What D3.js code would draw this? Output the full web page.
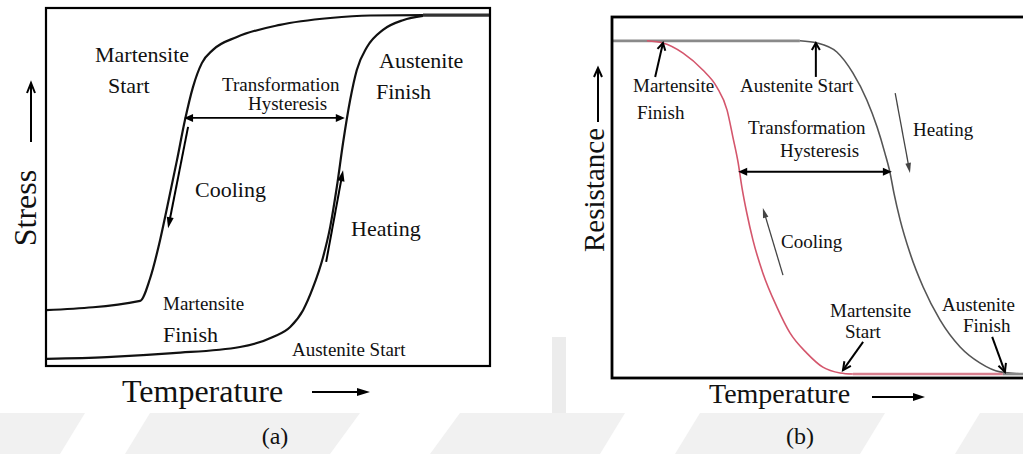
<!DOCTYPE html>
<html><head><meta charset="utf-8">
<script src="https://cdn.jsdelivr.net/npm/d3@7"></script>
</head><body style="margin:0">
<svg id="c" width="1023" height="454" font-family="Liberation Serif" style="font-family:'Liberation Serif'"></svg>
<script>
// ---- Data (normalised units: temperature 0-100, stress/resistance 0-100) ----
// Panel (a): stress vs temperature
const stressCooling = [[0,15.6],[21.2,18.2],[23.4,24.3],[25.7,35.2],[27.3,44.4],[29.5,57.5],[31.3,68.7],[33.1,77.9],[35.1,84.6],[37.6,88.3],[43.0,91.9],[52.7,95.3],[64.0,97.2],[73.0,97.9],[84.9,98.0]];
const stressHeating = [[0.2,2.0],[13.7,2.5],[28.6,3.6],[43.7,5.3],[51.1,8.1],[55.0,10.9],[57.9,15.6],[60.1,21.8],[62.4,30.4],[64.0,38.8],[65.5,50.0],[66.9,62.3],[68.5,74.3],[70.0,82.7],[72.3,89.1],[75.9,93.9],[80.4,96.6],[84.9,97.8]];
const stressPlateau = [[84.9,98.0],[100,98.0]];
// Panel (b): resistance vs temperature
const resPlateau = [[0,93.4],[45.7,93.4]];
const resCooling = [[8.5,93.4],[12.4,92.8],[17.3,90.0],[22.1,85.3],[25.5,80.6],[28.0,74.2],[29.4,66.8],[30.7,59.6],[31.6,52.9],[32.8,45.7],[34.3,38.2],[36.7,29.1],[40.1,19.7],[43.3,12.5],[47.4,6.9],[51.3,3.0],[55.5,1.4],[58.6,1.1]];
const resBottomRed = [[58.6,1.1],[95.1,1.1]];
const resBottomGray = [[95.1,1.1],[100,1.1]];
const resHeating = [[45.7,93.4],[49.9,92.8],[54.7,90.3],[58.6,84.5],[62.0,77.0],[64.5,69.5],[66.4,62.3],[67.6,57.1],[68.6,51.2],[70.1,43.8],[72.5,34.6],[75.7,25.2],[79.8,16.1],[84.7,8.6],[89.5,4.2],[94.4,1.7],[100,1.1]];
// hysteresis widths  [tempLeft, tempRight, level]
const hysteresisA = [31.1, 67.3, 69.3];
const hysteresisB = [30.7, 68.1, 57.1];
const labelsA = ["Martensite","Start","Transformation","Hysteresis","Austenite","Finish","Cooling","Heating","Martensite","Finish","Austenite Start"];
const labelsB = ["Martensite","Finish","Austenite Start","Transformation","Hysteresis","Heating","Cooling","Martensite","Start","Austenite","Finish"];
const axisTitlesA = ["Temperature","Stress","(a)"];
const axisTitlesB = ["Temperature","Resistance","(b)"];

// ---- Scales ----
const xA = d3.scaleLinear().domain([0,100]).range([46,490]);
const yA = d3.scaleLinear().domain([0,100]).range([366,8]);
const xB = d3.scaleLinear().domain([0,100]).range([612,1023]);
const yB = d3.scaleLinear().domain([0,100]).range([378,17]);

const svg = d3.select("#c");

// faint watermark background
const wm = svg.append("g");
wm.append("rect").attr("x",0).attr("y",413).attr("width",1023).attr("height",41).attr("fill","#f1f1f1");
[[60,454,85,413,150,413,125,454],[330,454,360,413,460,413,430,454],[600,454,625,413,700,413,675,454],[860,454,885,413,980,413,955,454]].forEach(p=>{
  wm.append("polygon").attr("points",[[p[0],p[1]],[p[2],p[3]],[p[4],p[5]],[p[6],p[7]]].map(d=>d.join(",")).join(" ")).attr("fill","#ffffff");
});
wm.append("rect").attr("x",552).attr("y",337).attr("width",14).attr("height",76).attr("fill","#ececec");

function drawArrow(g, x1,y1,x2,y2, o){
  o = Object.assign({stroke:"#000", w:2, len:9, hw:3.5, filled:true, both:false}, o||{});
  const dx=x2-x1, dy=y2-y1, L=Math.hypot(dx,dy), ux=dx/L, uy=dy/L;
  const head=(px,py,vx,vy)=>{
    const bx=px-vx*o.len, by=py-vy*o.len;
    const a=[bx-vy*o.hw, by+vx*o.hw], b=[bx+vy*o.hw, by-vx*o.hw];
    if(o.filled){
      g.append("polygon").attr("points",[[px,py],a,b].map(d=>d.join(",")).join(" ")).attr("fill",o.stroke);
    } else {
      g.append("polyline").attr("points",[a,[px,py],b].map(d=>d.join(",")).join(" ")).attr("fill","none").attr("stroke",o.stroke).attr("stroke-width",o.w);
    }
  };
  const s = (o.both && o.filled) ? o.len*0.8 : 0, e = o.filled ? o.len*0.8 : 0;
  g.append("line").attr("x1",x1+ux*s).attr("y1",y1+uy*s).attr("x2",x2-ux*e).attr("y2",y2-uy*e)
    .attr("stroke",o.stroke).attr("stroke-width",o.w);
  head(x2,y2,ux,uy);
  if(o.both) head(x1,y1,-ux,-uy);
}
function label(g, s, x, y, size, anchor, rot){
  const t = g.append("text").attr("x",x).attr("y",y)
    .attr("font-family","Liberation Serif")
    .style("font-family",'"Liberation Serif"')
    .attr("font-size",size)
    .attr("fill","#111").attr("text-anchor",anchor||"start").text(s);
  if(rot) t.attr("transform",`rotate(${rot},${x},${y})`);
  return t;
}

// ---------------- Panel (a) ----------------
const gA = svg.append("g");
const lineA = d3.line().x(d=>xA(d[0])).y(d=>yA(d[1])).curve(d3.curveMonotoneX);
const straightA = d3.line().x(d=>xA(d[0])).y(d=>yA(d[1]));
gA.append("path").attr("d",lineA(stressCooling)).attr("fill","none").attr("stroke","#111").attr("stroke-width",2.2);
gA.append("path").attr("d",lineA(stressHeating)).attr("fill","none").attr("stroke","#111").attr("stroke-width",2.2);
gA.append("path").attr("d",straightA(stressPlateau)).attr("fill","none").attr("stroke","#333").attr("stroke-width",3.2);
gA.append("rect").attr("x",xA(0)).attr("y",yA(100)).attr("width",xA(100)-xA(0)).attr("height",yA(0)-yA(100))
  .attr("fill","none").attr("stroke","#000").attr("stroke-width",2.2);
drawArrow(gA, xA(hysteresisA[0]), yA(hysteresisA[2]), xA(hysteresisA[1]), yA(hysteresisA[2]), {both:true, w:1.6, len:9, hw:4});
drawArrow(gA, xA(32.0), yA(66.8), xA(27.5), yA(38.5), {w:2, len:11, hw:3.5});
drawArrow(gA, xA(63.1), yA(29.1), xA(66.9), yA(54.7), {w:2, len:11, hw:3.5});
label(gA, labelsA[0], 95, 62, 22);
label(gA, labelsA[1], 108, 93, 22);
label(gA, labelsA[2], 222, 91, 19);
label(gA, labelsA[3], 248, 110, 19);
label(gA, labelsA[4], 379, 68, 22);
label(gA, labelsA[5], 376, 99, 22);
label(gA, labelsA[6], 195, 197, 22);
label(gA, labelsA[7], 351, 236, 22);
label(gA, labelsA[8], 163, 310, 19);
label(gA, labelsA[9], 163, 342, 22);
label(gA, labelsA[10], 292, 356, 19);
label(gA, axisTitlesA[0], 122, 402, 32);
drawArrow(gA, 312, 392, 370, 392, {w:2, len:13, hw:4});
label(gA, axisTitlesA[1], 36, 208, 32, "middle", -90);
drawArrow(gA, 31, 142, 31, 83, {w:2, len:10, hw:4, filled:false});
label(gA, axisTitlesA[2], 275, 444, 24, "middle");

// ---------------- Panel (b) ----------------
const gB = svg.append("g");
const lineB = d3.line().x(d=>xB(d[0])).y(d=>yB(d[1])).curve(d3.curveMonotoneX);
const straightB = d3.line().x(d=>xB(d[0])).y(d=>yB(d[1]));
gB.append("path").attr("d",straightB(resPlateau)).attr("fill","none").attr("stroke","#8a8a8a").attr("stroke-width",2.6);
gB.append("path").attr("d",lineB(resHeating)).attr("fill","none").attr("stroke","#555").attr("stroke-width",1.6);
gB.append("path").attr("d",lineB(resCooling)).attr("fill","none").attr("stroke","#d4566c").attr("stroke-width",1.6);
gB.append("path").attr("d",straightB(resBottomRed)).attr("fill","none").attr("stroke","#d9808f").attr("stroke-width",2.6);
gB.append("path").attr("d",straightB(resBottomGray)).attr("fill","none").attr("stroke","#888").attr("stroke-width",2.6);
gB.append("rect").attr("x",xB(0)).attr("y",yB(100)).attr("width",xB(100)-xB(0)+20).attr("height",yB(0)-yB(100))
  .attr("fill","none").attr("stroke","#000").attr("stroke-width",2.8);
drawArrow(gB, xB(hysteresisB[0]), yB(hysteresisB[2]), xB(hysteresisB[1]), yB(hysteresisB[2]), {both:true, w:2, len:9, hw:4});
// annotation arrows
drawArrow(gB, xB(10.5), yB(83.4), xB(12.4), yB(92.8), {w:2, len:7, hw:4, filled:false});
drawArrow(gB, xB(49.6), yB(83.4), xB(49.6), yB(92.8), {w:2, len:7, hw:4, filled:false});
drawArrow(gB, xB(61.1), yB(10.0), xB(56.2), yB(2.2), {w:2, len:8, hw:4, filled:false});
drawArrow(gB, xB(92.5), yB(11.4), xB(95.6), yB(1.7), {w:2, len:8, hw:4, filled:false});
drawArrow(gB, xB(68.9), yB(78.9), xB(72.5), yB(56.8), {stroke:"#444", w:1.3, len:10, hw:2.8});
drawArrow(gB, xB(41.6), yB(28.5), xB(36.7), yB(47.1), {stroke:"#444", w:1.3, len:10, hw:2.8});
label(gB, labelsB[0], 633, 92, 19);
label(gB, labelsB[1], 637, 119, 19);
label(gB, labelsB[2], 740, 92, 19);
label(gB, labelsB[3], 748, 134, 19);
label(gB, labelsB[4], 780, 157, 19);
label(gB, labelsB[5], 913, 136, 19);
label(gB, labelsB[6], 781, 248, 19);
label(gB, labelsB[7], 830, 317, 19);
label(gB, labelsB[8], 845, 338, 19);
label(gB, labelsB[9], 942, 311, 19);
label(gB, labelsB[10], 963, 332, 19);
label(gB, axisTitlesB[0], 709, 403, 28);
drawArrow(gB, 872, 397, 925, 397, {w:2, len:12, hw:4});
label(gB, axisTitlesB[1], 604, 190, 29, "middle", -90);
drawArrow(gB, 598, 122, 598, 68, {w:2, len:9, hw:4, filled:false});
label(gB, axisTitlesB[2], 800, 444, 24, "middle");
</script>
</body></html>
